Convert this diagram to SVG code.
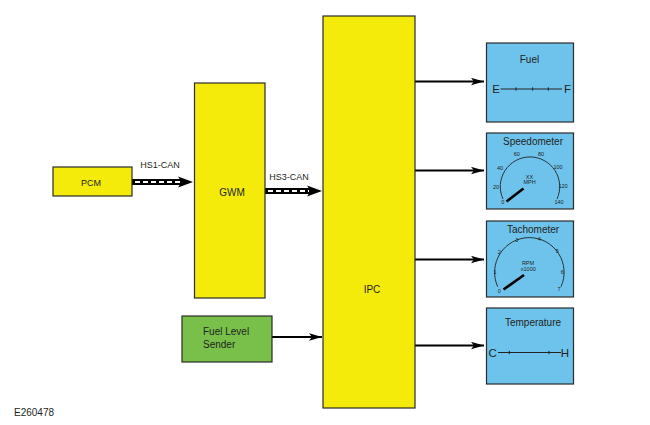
<svg xmlns="http://www.w3.org/2000/svg" width="650" height="425" viewBox="0 0 650 425">
<defs>
<style>
.box{stroke:#2b2b2b;stroke-width:1.2}
.y{fill:#F4EB0B}
.g{fill:#78C04A}
.b{fill:#6EC3EC}
text{font-family:"Liberation Sans",Arial,sans-serif;fill:#231f20}
.t10{font-size:10px}
.t9{font-size:9px}
.big{font-size:11.5px}
.sm{font-size:5.5px}
.wire{stroke:#000;stroke-width:2.2;fill:none}
.can{stroke:#000;stroke-width:6;fill:none}
.dash{stroke:#fff;stroke-width:2;stroke-dasharray:5 3;fill:none}
.arc{stroke:#222;stroke-width:0.9;fill:none}
.needle{stroke:#000;stroke-width:2.6;stroke-linecap:butt}
.scale{stroke:#222;stroke-width:1}
</style>
<marker id="ah" markerUnits="userSpaceOnUse" markerWidth="14" markerHeight="8" refX="13" refY="4" orient="auto">
<path d="M0,0.3 L13,4 L0,7.7 L3,4 Z" fill="#000"/>
</marker>
<marker id="ahc" markerUnits="userSpaceOnUse" markerWidth="14" markerHeight="12" refX="12" refY="6" orient="auto">
<path d="M0,1 L12,6 L0,11 L3,6 Z" fill="#000"/>
</marker>
</defs>

<g id="connectors">
<line class="can" x1="132" y1="182" x2="182" y2="182"/>
<line class="dash" x1="135" y1="182" x2="180" y2="182"/>
<path d="M178,176.5 L193,182 L178,187.5 L181.5,182 Z" fill="#000"/>
<line class="can" x1="265" y1="191" x2="311" y2="191"/>
<line class="dash" x1="268" y1="191" x2="309" y2="191"/>
<path d="M307,185.5 L322,191 L307,196.5 L310.5,191 Z" fill="#000"/>
<line class="wire" x1="272" y1="337" x2="322" y2="337" marker-end="url(#ah)"/>
<line class="wire" x1="415" y1="81.5" x2="484" y2="81.5" marker-end="url(#ah)"/>
<line class="wire" x1="415" y1="170.5" x2="484" y2="170.5" marker-end="url(#ah)"/>
<line class="wire" x1="415" y1="259.5" x2="484" y2="259.5" marker-end="url(#ah)"/>
<line class="wire" x1="415" y1="345.5" x2="484" y2="345.5" marker-end="url(#ah)"/>
<text class="t9" x="160" y="168" text-anchor="middle">HS1-CAN</text>
<text class="t9" x="289" y="180" text-anchor="middle">HS3-CAN</text>
</g>

<g id="pcm">
<rect class="box y" x="53" y="167" width="79" height="29"/>
<text class="t9" x="91" y="185.5" text-anchor="middle">PCM</text>
</g>

<g id="gwm">
<rect class="box y" x="194.5" y="83" width="70.5" height="215"/>
<text class="t10" x="232" y="196" text-anchor="middle">GWM</text>
</g>

<g id="ipc">
<rect class="box y" x="323" y="16" width="92" height="392"/>
<text class="t10" x="372" y="292.5" text-anchor="middle">IPC</text>
</g>

<g id="fuel-level-sender">
<rect class="box g" x="182" y="316" width="90" height="46"/>
<text class="t10" x="203" y="335">Fuel Level</text>
<text class="t10" x="203" y="347.5">Sender</text>
</g>

<g id="fuel">
<rect class="box b" x="486.5" y="43" width="87" height="79"/>
<text class="t10" x="529.5" y="62.5" text-anchor="middle">Fuel</text>
<text class="big" x="496" y="92.5" text-anchor="middle">E</text>
<text class="big" x="567.5" y="92.5" text-anchor="middle">F</text>
<line class="scale" x1="500.5" y1="89" x2="562" y2="89"/>
<line class="scale" x1="516" y1="87.3" x2="516" y2="90.7"/>
<line class="scale" x1="532.7" y1="87.3" x2="532.7" y2="90.7"/>
<line class="scale" x1="548.3" y1="87.3" x2="548.3" y2="90.7"/>
</g>

<g id="speedometer">
<rect class="box b" x="486.5" y="133" width="87" height="76"/>
<text class="t10" x="533" y="144.5" text-anchor="middle">Speedometer</text>
<path class="arc" d="M503,199 A29.7,29.7 0 1 1 557,199"/>
<g class="sm" text-anchor="middle">
<text x="502.7" y="204">0</text>
<text x="496" y="188.7">20</text>
<text x="500" y="169.7">40</text>
<text x="516.7" y="156.3">60</text>
<text x="541" y="156.3">80</text>
<text x="558" y="168.7">100</text>
<text x="563" y="188">120</text>
<text x="559" y="204">140</text>
<text x="529.5" y="178.7">XX</text>
<text x="529.5" y="184">MPH</text>
</g>
<line class="needle" x1="506.5" y1="201.5" x2="523.5" y2="188.5"/>
</g>

<g id="tachometer">
<rect class="box b" x="486.5" y="221" width="87" height="76"/>
<text class="t10" x="533" y="232.5" text-anchor="middle">Tachometer</text>
<path class="arc" d="M497.7,286.7 A34.75,34.75 0 1 1 561,286.7"/>
<g class="sm" text-anchor="middle">
<text x="499.3" y="293">0</text>
<text x="495" y="274.3">1</text>
<text x="499.3" y="254.3">2</text>
<text x="516.7" y="242">3</text>
<text x="539.3" y="241">4</text>
<text x="557.3" y="253">5</text>
<text x="562.3" y="273.7">6</text>
<text x="559" y="291">7</text>
<text x="528" y="265.3">RPM</text>
<text x="528.3" y="270.5">x1000</text>
</g>
<line class="needle" x1="503.5" y1="289.5" x2="524" y2="275"/>
</g>

<g id="temperature">
<rect class="box b" x="486.5" y="308" width="87" height="76"/>
<text class="t10" x="533" y="325.5" text-anchor="middle">Temperature</text>
<text class="big" x="492.7" y="357" text-anchor="middle">C</text>
<text class="big" x="565" y="357" text-anchor="middle">H</text>
<line class="scale" x1="498" y1="352.5" x2="561" y2="352.5"/>
<line class="scale" x1="509.3" y1="350.8" x2="509.3" y2="354.2"/>
<line class="scale" x1="549" y1="350.8" x2="549" y2="354.2"/>
</g>

<text class="t10" x="14" y="416">E260478</text>
</svg>
